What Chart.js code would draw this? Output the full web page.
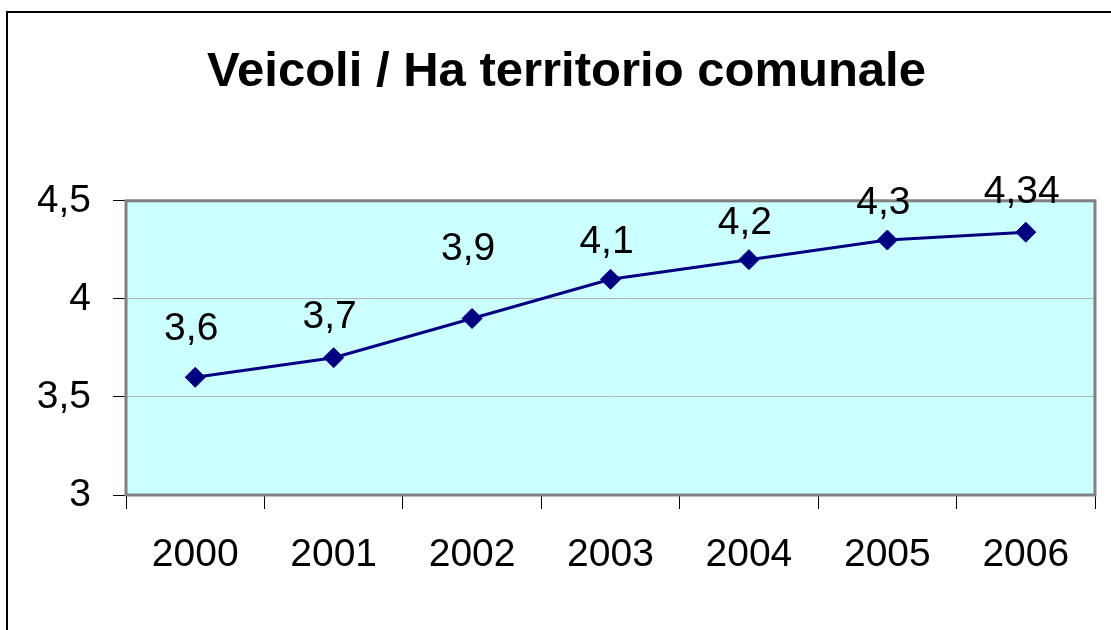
<!DOCTYPE html>
<html>
<head>
<meta charset="utf-8">
<script src="https://cdn.jsdelivr.net/npm/chart.js@4/dist/chart.umd.min.js"></script>
<style>
html,body{margin:0;padding:0;background:#fff;}
#wrap{width:1111px;height:630px;position:relative;}
</style>
</head>
<body>
<div id="wrap"><canvas id="c" width="1111" height="630"></canvas></div>
<script>
const titleText = 'Veicoli / Ha territorio comunale';
const years = ['2000', '2001', '2002', '2003', '2004', '2005', '2006'];
const values = [3.6, 3.7, 3.9, 4.1, 4.2, 4.3, 4.34];
const valueLabels = ['3,6', '3,7', '3,9', '4,1', '4,2', '4,3', '4,34'];
const yTickLabels = ['3', '3,5', '4', '4,5'];
const labelLift = [48, 40, 69, 37, 36, 37, 40];

const FONT = '"Liberation Sans", Arial, Helvetica, sans-serif';

const decor = {
  id: 'decor',
  beforeDraw(chart) {
    const ctx = chart.ctx, a = chart.chartArea;
    ctx.save();
    ctx.fillStyle = '#ffffff';
    ctx.fillRect(0, 0, chart.width, chart.height);
    ctx.strokeStyle = '#000000';
    ctx.lineWidth = 2;
    ctx.strokeRect(7, 12, chart.width + 20, chart.height + 20);
    ctx.fillStyle = '#CCFFFF';
    ctx.fillRect(a.left, a.top, a.right - a.left, a.bottom - a.top);
    ctx.restore();
  },
  beforeDatasetsDraw(chart) {
    const ctx = chart.ctx, a = chart.chartArea;
    ctx.save();
    ctx.strokeStyle = '#808080';
    ctx.lineWidth = 3;
    ctx.strokeRect(a.left, a.top, a.right - a.left, a.bottom - a.top);
    ctx.restore();
  },
  afterDatasetsDraw(chart) {
    const ctx = chart.ctx;
    const meta = chart.getDatasetMeta(0);
    ctx.save();
    ctx.font = '39px ' + FONT;
    ctx.fillStyle = '#000000';
    ctx.textAlign = 'center';
    ctx.textBaseline = 'middle';
    meta.data.forEach((pt, i) => {
      ctx.fillText(valueLabels[i], pt.x - 4, pt.y - labelLift[i]);
    });
    ctx.restore();
  }
};

new Chart(document.getElementById('c'), {
  type: 'line',
  data: {
    labels: years,
    datasets: [{
      data: values,
      borderColor: '#000080',
      borderWidth: 3,
      backgroundColor: '#000080',
      pointStyle: 'rectRot',
      pointRadius: 10,
      pointHoverRadius: 10,
      pointBackgroundColor: '#000080',
      pointBorderColor: '#000080',
      pointBorderWidth: 1,
      tension: 0,
      clip: false
    }]
  },
  options: {
    responsive: false,
    animation: false,
    devicePixelRatio: 1,
    layout: { padding: { left: 38, right: 16, top: 10, bottom: 0 } },
    plugins: {
      legend: { display: false },
      tooltip: { enabled: false },
      title: {
        display: true,
        text: titleText,
        color: '#000000',
        font: { family: FONT, size: 49, weight: 'bold' },
        padding: { top: 33, bottom: 99 }
      }
    },
    scales: {
      x: {
        offset: true,
        grid: { display: true, drawOnChartArea: false, offset: true, tickColor: '#000000', tickLength: 14, tickWidth: 1 },
        border: { display: false },
        ticks: { color: '#000000', font: { family: FONT, size: 39 }, padding: 23, maxRotation: 0, autoSkip: false },
        afterFit(s) { s.height = 135; }
      },
      y: {
        min: 3,
        max: 4.5,
        grid: { color: '#b4b4b4', lineWidth: 1, tickColor: '#000000', tickLength: 13 },
        border: { display: false },
        ticks: {
          stepSize: 0.5,
          color: '#000000',
          font: { family: FONT, size: 39 },
          padding: 22,
          callback: (v, i) => yTickLabels[i]
        },
        afterFit(s) { s.width = 88; }
      }
    }
  },
  plugins: [decor]
});
</script>
</body>
</html>
